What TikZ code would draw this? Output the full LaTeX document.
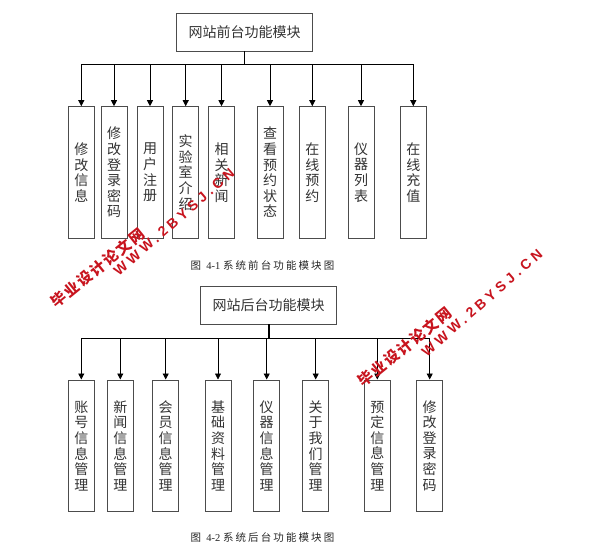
\documentclass[tikz,border=0pt]{standalone}
\usepackage{fontspec}
\setmainfont{Liberation Serif}
\newfontfamily\cjk{Noto Sans CJK SC}
\newfontfamily\capcjk[LetterSpace=20]{Noto Sans CJK SC}
\newfontfamily\wmcjk[LetterSpace=12]{Noto Sans CJK SC}
\newfontfamily\wmlat[LetterSpace=28]{Liberation Sans}
\usetikzlibrary{arrows.meta}
\definecolor{wmred}{HTML}{C8141E}
\begin{document}
\begin{tikzpicture}[x=1pt,y=-1pt,
  titlebox/.style={draw=black!70, line width=0.9pt, minimum width=136pt, minimum height=38pt, inner sep=0pt, text=black!80, font=\cjk\fontsize{14}{16}\selectfont},
  leaf/.style={draw=black!70, line width=0.9pt, minimum width=26pt, minimum height=131.7pt, inner sep=0pt, align=center, text=black!80, font=\cjk\fontsize{14}{15.6}\selectfont},
  stem/.style={line width=1.6pt},
  bus/.style={line width=0.8pt},
  conn/.style={line width=0.8pt, -{Triangle[length=6pt,width=6pt]}},
  captext/.style={inner sep=0pt, text=black!85, font=\fontsize{10.5}{12}\selectfont},
  wmc/.style={inner sep=0pt, text=wmred, font=\wmcjk\bfseries\fontsize{15}{16}\selectfont, rotate=39},
  wml/.style={inner sep=0pt, text=wmred, font=\wmlat\bfseries\fontsize{14}{16}\selectfont, rotate=41}
]
\useasboundingbox (0,0) rectangle (605,553);
\fill[white] (0,0) rectangle (605,553);

% ---------- front-end ----------
\node[titlebox] (t1) at (244.5,32) {网站前台功能模块};
\coordinate (tb1) at (244.5,64.3);
\node[leaf] (a1) at (81.3,172.5) {修\\改\\信\\息};
\node[leaf] (a2) at (114,172.5) {修\\改\\登\\录\\密\\码};
\node[leaf] (a3) at (150,172.5) {用\\户\\注\\册};
\node[leaf] (a4) at (185.7,172.5) {实\\验\\室\\介\\绍};
\node[leaf] (a5) at (221.5,172.5) {相\\关\\新\\闻};
\node[leaf] (a6) at (270,172.5) {查\\看\\预\\约\\状\\态};
\node[leaf] (a7) at (312.3,172.5) {在\\线\\预\\约};
\node[leaf] (a8) at (361,172.5) {仪\\器\\列\\表};
\node[leaf] (a9) at (413.3,172.5) {在\\线\\充\\值};
\draw[stem] (t1.south) -- (tb1);
\draw[bus] (tb1 -| a1.north) -- (tb1 -| a9.north);
\foreach \i in {1,...,9} \draw[conn] (tb1 -| a\i.north) -- (a\i.north);
\node[captext] (c1) at (262.5,265) {{\capcjk 图}\ \ 4-1\ {\capcjk 系统前台功能模块图}};

% ---------- back-end ----------
\node[titlebox] (t2) at (268.7,305) {网站后台功能模块};
\coordinate (tb2) at (268.7,338.7);
\node[leaf] (b1) at (81.3,445.8) {账\\号\\信\\息\\管\\理};
\node[leaf] (b2) at (120.3,445.8) {新\\闻\\信\\息\\管\\理};
\node[leaf] (b3) at (165.7,445.8) {会\\员\\信\\息\\管\\理};
\node[leaf] (b4) at (218,445.8) {基\\础\\资\\料\\管\\理};
\node[leaf] (b5) at (266.7,445.8) {仪\\器\\信\\息\\管\\理};
\node[leaf] (b6) at (315.7,445.8) {关\\于\\我\\们\\管\\理};
\node[leaf] (b7) at (377.3,445.8) {预\\定\\信\\息\\管\\理};
\node[leaf] (b8) at (429.7,445.8) {修\\改\\登\\录\\密\\码};
\draw[stem] (t2.south) -- (tb2);
\draw[bus] (tb2 -| b1.north) -- (tb2 -| b8.north);
\foreach \i in {1,...,8} \draw[conn] (tb2 -| b\i.north) -- (b\i.north);
\node[captext] (c2) at (262.5,537.7) {{\capcjk 图}\ \ 4-2\ {\capcjk 系统后台功能模块图}};

% ---------- watermarks ----------
\node[wmc] (w1) at (98,268) {毕业设计论文网};
\node[wml] (w2) at (174,222) {WWW.2BYSJ.CN};
\node[wmc] (w3) at (405,347) {毕业设计论文网};
\node[wml] (w4) at (482,303) {WWW.2BYSJ.CN};
\end{tikzpicture}
\end{document}
